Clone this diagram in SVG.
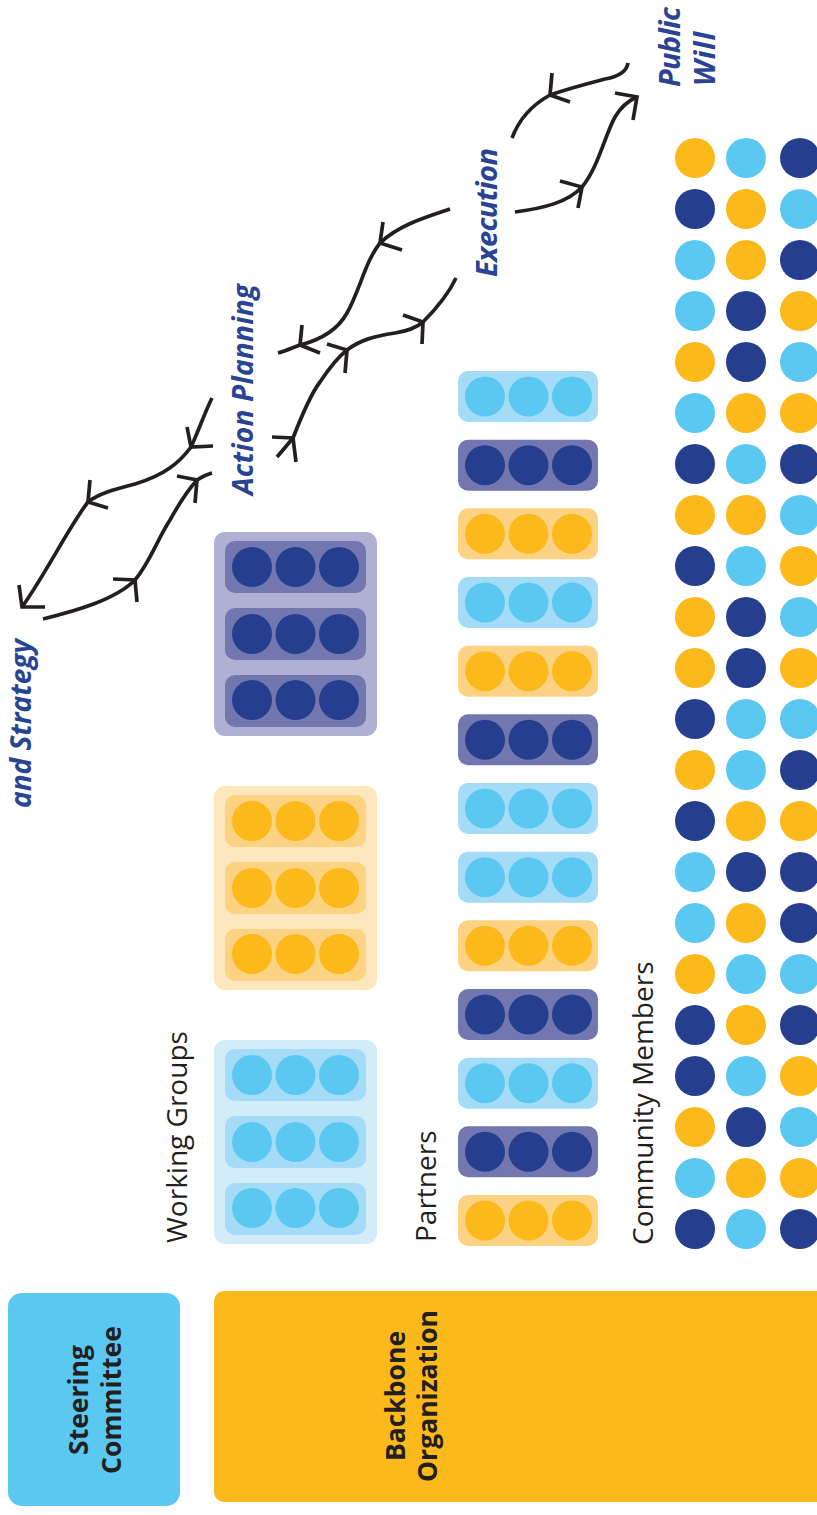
<svg xmlns="http://www.w3.org/2000/svg" width="817" height="1515" viewBox="0 0 817 1515">
<style>
.y{fill:#FBB91C}.l{fill:#5BC8F2}.d{fill:#253F8E}
.oy{fill:#FDE7BD}.iy{fill:#FDD282}
.ol{fill:#D3ECFA}.il{fill:#A4DBF7}
.od{fill:#AFB0D3}.id{fill:#7377B0}
.lbl{font-family:"Open Sans","DejaVu Sans",sans-serif;font-size:28px;font-weight:500;fill:#231F20}
.box{font-family:"Open Sans","DejaVu Sans",sans-serif;font-size:26.5px;font-weight:bold;fill:#231F20}
.stage{font-family:"Open Sans","DejaVu Sans",sans-serif;font-weight:bold;font-style:italic;fill:#2A4494}
.c{fill:none;stroke:#231F20;stroke-width:3.7;stroke-linecap:butt;stroke-linejoin:miter}
</style>
<defs>
<g id="wg-rows">
<rect x="225" y="9" width="141" height="52" rx="10"/>
<rect x="225" y="76" width="141" height="52" rx="10"/>
<rect x="225" y="143" width="141" height="52" rx="10"/>
</g>
<g id="wg-dots">
<circle cx="252" cy="35" r="20"/><circle cx="295.5" cy="35" r="20"/><circle cx="339" cy="35" r="20"/>
<circle cx="252" cy="102" r="20"/><circle cx="295.5" cy="102" r="20"/><circle cx="339" cy="102" r="20"/>
<circle cx="252" cy="168" r="20"/><circle cx="295.5" cy="168" r="20"/><circle cx="339" cy="168" r="20"/>
</g>
<g id="p-box"><rect x="458" y="0" width="140" height="51" rx="10"/></g>
<g id="p-dots"><circle cx="485" cy="25.5" r="20"/><circle cx="528.5" cy="25.5" r="20"/><circle cx="572" cy="25.5" r="20"/></g>
</defs>

<!-- Steering Committee -->
<g id="steering-committee">
<rect x="8" y="1293" width="172" height="213" rx="14" class="l"/>
<text class="box" text-anchor="middle" transform="translate(88,1400) rotate(-90)">Steering</text>
<text class="box" text-anchor="middle" transform="translate(121,1400) rotate(-90)">Committee</text>
</g>

<!-- Backbone Organization -->
<g id="backbone-organization">
<rect x="214" y="1291" width="620" height="211" rx="10" class="y"/>
<text class="box" text-anchor="middle" transform="translate(405,1396) rotate(-90)">Backbone</text>
<text class="box" text-anchor="middle" transform="translate(437,1396) rotate(-90)">Organization</text>
</g>

<!-- Working Groups -->
<g id="working-groups">
<text class="lbl" transform="translate(187,1243) rotate(-90)">Working Groups</text>
<g id="wg-navy" transform="translate(0,532)">
<rect x="214" y="0" width="163" height="204" rx="11" class="od"/>
<use href="#wg-rows" class="id"/>
<use href="#wg-dots" class="d"/>
</g>
<g id="wg-yellow" transform="translate(0,786)">
<rect x="214" y="0" width="163" height="204" rx="11" class="oy"/>
<use href="#wg-rows" class="iy"/>
<use href="#wg-dots" class="y"/>
</g>
<g id="wg-light" transform="translate(0,1040)">
<rect x="214" y="0" width="163" height="204" rx="11" class="ol"/>
<use href="#wg-rows" class="il"/>
<use href="#wg-dots" class="l"/>
</g>
</g>

<!-- Partners -->
<g id="partners">
<text class="lbl" transform="translate(436,1242) rotate(-90)">Partners</text>
<g id="p1" transform="translate(0,371)"><use href="#p-box" class="il"/><use href="#p-dots" class="l"/></g>
<g id="p2" transform="translate(0,439.7)"><use href="#p-box" class="id"/><use href="#p-dots" class="d"/></g>
<g id="p3" transform="translate(0,508.3)"><use href="#p-box" class="iy"/><use href="#p-dots" class="y"/></g>
<g id="p4" transform="translate(0,577)"><use href="#p-box" class="il"/><use href="#p-dots" class="l"/></g>
<g id="p5" transform="translate(0,645.7)"><use href="#p-box" class="iy"/><use href="#p-dots" class="y"/></g>
<g id="p6" transform="translate(0,714.3)"><use href="#p-box" class="id"/><use href="#p-dots" class="d"/></g>
<g id="p7" transform="translate(0,783)"><use href="#p-box" class="il"/><use href="#p-dots" class="l"/></g>
<g id="p8" transform="translate(0,851.7)"><use href="#p-box" class="il"/><use href="#p-dots" class="l"/></g>
<g id="p9" transform="translate(0,920.3)"><use href="#p-box" class="iy"/><use href="#p-dots" class="y"/></g>
<g id="p10" transform="translate(0,989)"><use href="#p-box" class="id"/><use href="#p-dots" class="d"/></g>
<g id="p11" transform="translate(0,1057.7)"><use href="#p-box" class="il"/><use href="#p-dots" class="l"/></g>
<g id="p12" transform="translate(0,1126.3)"><use href="#p-box" class="id"/><use href="#p-dots" class="d"/></g>
<g id="p13" transform="translate(0,1195)"><use href="#p-box" class="iy"/><use href="#p-dots" class="y"/></g>
</g>

<!-- Community Members -->
<g id="community-members">
<text class="lbl" transform="translate(653,1245) rotate(-90)">Community Members</text>
<g id="cm-dots">
<circle cx="695" cy="158" r="20" class="y"/><circle cx="746" cy="158" r="20" class="l"/><circle cx="800" cy="158" r="20" class="d"/>
<circle cx="695" cy="209" r="20" class="d"/><circle cx="746" cy="209" r="20" class="y"/><circle cx="800" cy="209" r="20" class="l"/>
<circle cx="695" cy="260" r="20" class="l"/><circle cx="746" cy="260" r="20" class="y"/><circle cx="800" cy="260" r="20" class="d"/>
<circle cx="695" cy="311" r="20" class="l"/><circle cx="746" cy="311" r="20" class="d"/><circle cx="800" cy="311" r="20" class="y"/>
<circle cx="695" cy="362" r="20" class="y"/><circle cx="746" cy="362" r="20" class="d"/><circle cx="800" cy="362" r="20" class="l"/>
<circle cx="695" cy="413" r="20" class="l"/><circle cx="746" cy="413" r="20" class="y"/><circle cx="800" cy="413" r="20" class="y"/>
<circle cx="695" cy="464" r="20" class="d"/><circle cx="746" cy="464" r="20" class="l"/><circle cx="800" cy="464" r="20" class="d"/>
<circle cx="695" cy="515" r="20" class="y"/><circle cx="746" cy="515" r="20" class="y"/><circle cx="800" cy="515" r="20" class="l"/>
<circle cx="695" cy="566" r="20" class="d"/><circle cx="746" cy="566" r="20" class="l"/><circle cx="800" cy="566" r="20" class="y"/>
<circle cx="695" cy="617" r="20" class="y"/><circle cx="746" cy="617" r="20" class="d"/><circle cx="800" cy="617" r="20" class="l"/>
<circle cx="695" cy="668" r="20" class="y"/><circle cx="746" cy="668" r="20" class="d"/><circle cx="800" cy="668" r="20" class="y"/>
<circle cx="695" cy="719" r="20" class="d"/><circle cx="746" cy="719" r="20" class="l"/><circle cx="800" cy="719" r="20" class="l"/>
<circle cx="695" cy="770" r="20" class="y"/><circle cx="746" cy="770" r="20" class="l"/><circle cx="800" cy="770" r="20" class="d"/>
<circle cx="695" cy="821" r="20" class="d"/><circle cx="746" cy="821" r="20" class="y"/><circle cx="800" cy="821" r="20" class="y"/>
<circle cx="695" cy="872" r="20" class="l"/><circle cx="746" cy="872" r="20" class="d"/><circle cx="800" cy="872" r="20" class="d"/>
<circle cx="695" cy="923" r="20" class="l"/><circle cx="746" cy="923" r="20" class="y"/><circle cx="800" cy="923" r="20" class="d"/>
<circle cx="695" cy="974" r="20" class="y"/><circle cx="746" cy="974" r="20" class="l"/><circle cx="800" cy="974" r="20" class="l"/>
<circle cx="695" cy="1025" r="20" class="d"/><circle cx="746" cy="1025" r="20" class="y"/><circle cx="800" cy="1025" r="20" class="d"/>
<circle cx="695" cy="1076" r="20" class="d"/><circle cx="746" cy="1076" r="20" class="l"/><circle cx="800" cy="1076" r="20" class="y"/>
<circle cx="695" cy="1127" r="20" class="y"/><circle cx="746" cy="1127" r="20" class="d"/><circle cx="800" cy="1127" r="20" class="l"/>
<circle cx="695" cy="1178" r="20" class="l"/><circle cx="746" cy="1178" r="20" class="y"/><circle cx="800" cy="1178" r="20" class="y"/>
<circle cx="695" cy="1229" r="20" class="d"/><circle cx="746" cy="1229" r="20" class="l"/><circle cx="800" cy="1229" r="20" class="d"/>
</g>
</g>

<!-- Stage labels -->
<g id="stage-strategy"><text class="stage" font-size="28" transform="translate(31,808) rotate(-90)">and Strategy</text></g>
<g id="stage-action-planning"><text class="stage" font-size="28" textLength="211" transform="translate(253,495) rotate(-90)">Action Planning</text></g>
<g id="stage-execution"><text class="stage" font-size="29" textLength="129" transform="translate(497,277) rotate(-90)">Execution</text></g>
<g id="stage-public-will">
<text class="stage" font-size="29" textLength="80" transform="translate(680,87) rotate(-90)">Public</text>
<text class="stage" font-size="29" textLength="54" transform="translate(715,86) rotate(-90)">Will</text>
</g>

<!-- Connectors -->
<g id="connectors">
<path class="c" d="M212,398 C205,412 198,432 191,447 C180,462 165,475 135,484 C112,490 98,494 88,502 C70,525 45,575 22,607"/>
<path class="c" d="M187,427 L191,447 L213,446 M90,480 L88,502 L108,508 M19,585 L22,607 L45,607"/>
<path class="c" d="M43,619 C75,611 115,600 135,580 C150,562 157,540 170,520 C180,502 188,490 197,480 C203,476 208,474 212,473"/>
<path class="c" d="M113,579 L135,580 L137,602 M177,476 L197,480 L195,503"/>
<path class="c" d="M450,209 C430,216 400,224 380,243 C365,262 360,290 347,313 C337,331 320,340 300,345 C292,348 285,351 278,353"/>
<path class="c" d="M383,222 L380,243 L402,250 M302,325 L300,345 L320,353"/>
<path class="c" d="M277,457 C283,450 288,444 293,438 C300,420 310,395 320,382 C330,367 338,357 347,350 C360,340 375,336 395,333 C408,331 416,328 423,322 C435,310 448,295 456,278"/>
<path class="c" d="M272,437 L293,438 L296,462 M327,344 L347,350 L345,373 M403,315 L423,322 L422,344"/>
<path class="c" d="M628,63 C627,70 622,76 605,79 C590,83 570,88 550,95 C530,106 518,122 512,138"/>
<path class="c" d="M552,73 L550,95 L570,102"/>
<path class="c" d="M515,212 C545,208 568,202 582,187 C598,168 605,135 615,117 C622,105 630,100 637,97"/>
<path class="c" d="M560,181 L582,187 L578,208 M615,93 L637,97 L633,120"/>
</g>
</svg>
